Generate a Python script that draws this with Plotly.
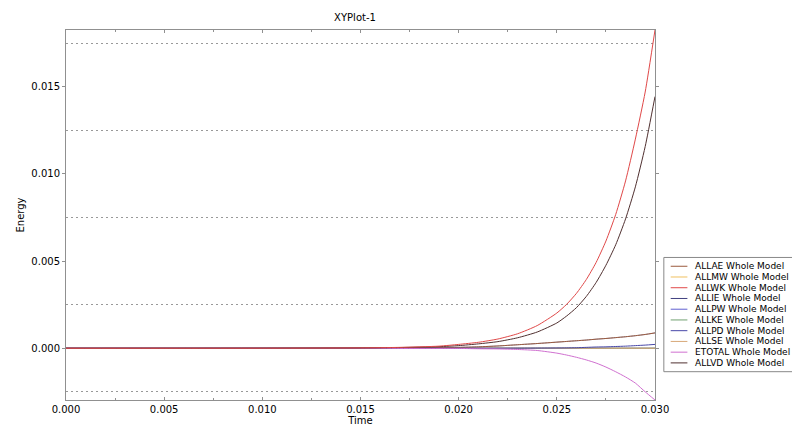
import plotly.graph_objects as go

# time axis (s)
time = [0.0, 0.005, 0.010, 0.015, 0.017, 0.019, 0.020, 0.021, 0.022, 0.023, 0.024,
        0.025, 0.0255, 0.026, 0.0265, 0.027, 0.0275, 0.028, 0.0285, 0.029, 0.0295, 0.030]

zeros = [0.0] * 22
allae = [0.0, 0.0, 0.000002, 0.00001, 0.00002, 0.00004, 0.00005, 0.00008, 0.00013, 0.00020, 0.00027,
         0.00035, 0.00039, 0.00043, 0.00047, 0.00052, 0.00056, 0.00061, 0.00066, 0.00072, 0.00079, 0.00088]
allwk = [0.0, 0.000001, 0.000003, 0.00002, 0.00005, 0.00012, 0.00022, 0.00034, 0.00053, 0.00083, 0.0013,
         0.00202, 0.00252, 0.00315, 0.00394, 0.00492, 0.00615, 0.00768, 0.0096, 0.0120, 0.0147, 0.01826]
allpd = [0.0, 0.0, 0.0, 0.0, 0.0, 0.0, 0.0, 0.0, 0.000002, 0.000004, 0.000008,
         0.000015, 0.00002, 0.00003, 0.00005, 0.00007, 0.00008, 0.0001, 0.00012, 0.00015, 0.00018, 0.00022]
etotal = [0.0, 0.0, 0.0, -0.000005, -0.00001, -0.00001, -0.00001, -0.00003, -0.00004, -0.00007, -0.00013,
          -0.00028, -0.00039, -0.00052, -0.00067, -0.00085, -0.00108, -0.00135, -0.00165, -0.0020, -0.0025, -0.00297]
allvd = [0.0, 0.0, 0.000002, 0.000015, 0.00004, 0.00009, 0.00015, 0.00025, 0.00038, 0.0006, 0.00093,
         0.00145, 0.00185, 0.00233, 0.00297, 0.00377, 0.00476, 0.00594, 0.00742, 0.00926, 0.01157, 0.01444]

names = ['ALLAE Whole Model', 'ALLMW Whole Model', 'ALLWK Whole Model', 'ALLIE Whole Model',
         'ALLPW Whole Model', 'ALLKE Whole Model', 'ALLPD Whole Model', 'ALLSE Whole Model',
         'ETOTAL Whole Model', 'ALLVD Whole Model']
colors = ['#9a5a3c', '#f0c060', '#e04848', '#404080', '#6060d0', '#70a070',
          '#4848a8', '#d8a878', '#d070d0', '#503030']
series = [allae, zeros, allwk, allae, zeros, zeros, allpd, zeros, etotal, allvd]
opac = [1, 1, 1, 0.5, 1, 1, 1, 1, 1, 1]

W, H = 800, 426
L, R, T, B = 47, 153, 22, 25
pw, ph = W - L - R, H - T - B

def px(x):
    return (x - L) / pw

def py(y):
    return (H - B - y) / ph

fig = go.Figure()
order = [1, 4, 5, 7, 3, 0, 6, 8, 9, 2]
for i in order:
    fig.add_trace(go.Scatter(x=time, y=series[i], mode='lines', name=names[i],
                             line=dict(color=colors[i], width=1, shape='spline', smoothing=0.6),
                             opacity=opac[i], showlegend=False))

# legend drawn by hand, to get the tight line spacing
shapes = [dict(type='rect', xref='paper', yref='paper', x0=px(656), x1=px(798),
               y0=py(372), y1=py(255), line=dict(color='#888888', width=1), fillcolor='white')]
annots = []
for k, nm in enumerate(names):
    yy = 264 + 11 * k
    shapes.append(dict(type='line', xref='paper', yref='paper', x0=px(663), x1=px(680),
                       y0=py(yy), y1=py(yy), line=dict(color=colors[k], width=1)))
    annots.append(dict(text=nm, xref='paper', yref='paper', x=px(686), y=py(yy),
                       xanchor='left', yanchor='middle', showarrow=False,
                       font=dict(size=9, color='black')))

fig.update_layout(width=W, height=H, margin=dict(l=L, r=R, t=T, b=B),
                  plot_bgcolor='white', paper_bgcolor='white',
                  font=dict(family='DejaVu Sans', size=10, color='black'),
                  title=dict(text='XYPlot-1', x=(347 - 0) / W, xanchor='center',
                             y=1 - 9 / H, yanchor='middle', font=dict(size=10)),
                  shapes=shapes, annotations=annots, showlegend=False)
fig.update_xaxes(range=[0, 0.030], dtick=0.005, tickformat='.3f', showgrid=False, zeroline=False,
                 showline=True, linecolor='#909090', linewidth=1, mirror='ticks',
                 ticks='inside', ticklen=3, tickcolor='#909090',
                 minor=dict(dtick=0.0025, ticks='inside', ticklen=2, tickcolor='#909090'),
                 title=dict(text='Time', standoff=0, font=dict(size=10)))
fig.update_yaxes(range=[-0.00297, 0.01826], dtick=0.005, tickformat='.3f', showgrid=False,
                 zeroline=False, showline=True, linecolor='#909090', linewidth=1, mirror='ticks',
                 ticks='outside', ticklen=3, tickcolor='#909090',
                 minor=dict(dtick=0.0025, showgrid=True, gridcolor='#999999', griddash='2px,3px',
                            gridwidth=1, ticks=''),
                 title=dict(text='Energy', standoff=4, font=dict(size=10)))

fig.write_html("out.html")
